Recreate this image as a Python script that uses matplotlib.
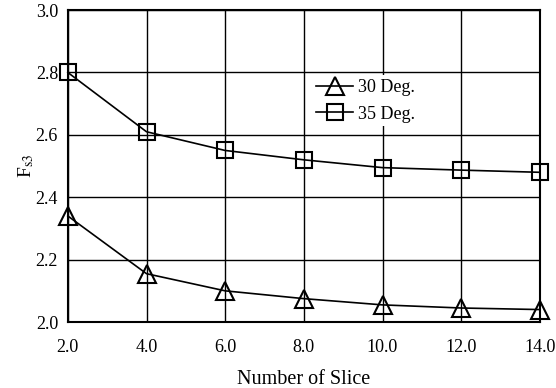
import matplotlib.pyplot as plt

# data
slices = [2.0, 4.0, 6.0, 8.0, 10.0, 12.0, 14.0]
fs3_30 = [2.34, 2.155, 2.10, 2.075, 2.055, 2.045, 2.04]
fs3_35 = [2.80, 2.61, 2.55, 2.52, 2.495, 2.487, 2.48]

x_ticks = [2.0, 4.0, 6.0, 8.0, 10.0, 12.0, 14.0]
x_labels = ['2.0', '4.0', '6.0', '8.0', '10.0', '12.0', '14.0']
y_ticks = [2.0, 2.2, 2.4, 2.6, 2.8, 3.0]

plt.rcParams['font.family'] = ['Liberation Serif', 'DejaVu Serif']
plt.rcParams['mathtext.fontset'] = 'stix'

fig = plt.figure(figsize=(5.56, 3.88), dpi=100)
ax = fig.add_axes([0.122, 0.170, 0.849, 0.804])

ax.plot(slices, fs3_30, color='black', lw=1.2, marker='^', ms=13,
        mfc='none', mec='black', mew=1.5, label='30 Deg.', zorder=3, clip_on=False)
ax.plot(slices, fs3_35, color='black', lw=1.2, marker='s', ms=12,
        mfc='none', mec='black', mew=1.5, label='35 Deg.', zorder=3, clip_on=False)

ax.set_xlim(2.0, 14.0)
ax.set_ylim(2.0, 3.0)
ax.set_xticks(x_ticks)
ax.set_xticklabels(x_labels)
ax.set_yticks(y_ticks)
ax.set_yticklabels([f'{v:.1f}' for v in y_ticks])
ax.tick_params(axis='both', length=0, labelsize=13)
ax.tick_params(axis='x', pad=12)
ax.tick_params(axis='y', pad=7)

ax.grid(True, color='black', lw=1.0)
ax.set_axisbelow(True)
for s in ax.spines.values():
    s.set_linewidth(1.5)

ax.set_xlabel('Number of Slice', fontsize=14.5, labelpad=10)
ax.set_ylabel(r'F$_{\rm s3}$', fontsize=14, labelpad=0)

leg = ax.legend(loc='upper left', bbox_to_anchor=(0.50, 0.82), frameon=True,
                fontsize=13, handlelength=2.0, handletextpad=0.3,
                borderpad=0.2, labelspacing=0.55)
leg.get_frame().set_edgecolor('none')
leg.get_frame().set_facecolor('white')
leg.get_frame().set_alpha(1.0)

fig.savefig('out.png', dpi=100)
